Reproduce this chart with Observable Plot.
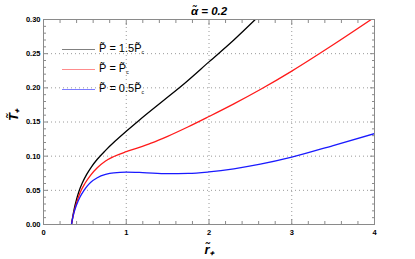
<!DOCTYPE html>
<html><head><meta charset="utf-8">
<script src="https://cdn.jsdelivr.net/npm/d3@7"></script>
<script src="https://cdn.jsdelivr.net/npm/@observablehq/plot@0.6"></script>
<style>
body{margin:0;background:#fff}
#c{position:relative;width:415px;height:259px;font-family:"Liberation Sans",Arial,sans-serif}
.lg{position:absolute;left:62px;font-size:11px;color:#000;white-space:nowrap;line-height:12px}
.lg i{display:inline-block;width:33px;height:0;border-top:1px solid;vertical-align:middle;margin-right:4px;font-style:normal}
.lg sub{font-size:5px;vertical-align:-2px}
</style>
</head><body><div id="c"></div>
<script>
// r̃+ and T̃+ values
const rBlack = [0.338,0.35,0.37,0.40,0.43,0.47,0.52,0.58,0.65,0.75,0.87,1.0,1.15,1.45,1.7,2.0,2.3,2.56];
const tBlack = [0,0.009,0.022,0.037,0.049,0.061,0.073,0.0845,0.0955,0.1085,0.1225,0.1365,0.152,0.1815,0.206,0.238,0.270,0.300];
const rRed = [0.338,0.35,0.37,0.40,0.447,0.5,0.568,0.65,0.75,0.85,1.0,1.15,1.3,1.5,1.75,2.0,2.3,2.62,3.0,3.5,3.96];
const tRed = [0,0.008,0.019,0.032,0.048,0.060,0.072,0.083,0.093,0.0995,0.1065,0.1125,0.119,0.129,0.143,0.158,0.1765,0.1975,0.2245,0.263,0.300];
const rBlue = [0.338,0.35,0.37,0.40,0.44,0.49,0.53,0.568,0.65,0.75,0.85,1.0,1.2,1.5,1.75,2.0,2.3,2.62,3.0,3.5,4.0];
const tBlue = [0,0.008,0.018,0.029,0.040,0.050,0.0565,0.0615,0.0685,0.0733,0.0757,0.0766,0.0760,0.0745,0.0748,0.0770,0.0815,0.0882,0.0985,0.1155,0.133];
const seriesNames = ["1.5","1","0.5"];
const seriesColors = ["#000000","#ff1a1a","#1a1aff"];
const xMajor = [0,1,2,3,4];
const yMajor = [0,0.05,0.10,0.15,0.20,0.25,0.30];
const xGrid = [1,2,3];
const yGrid = [0.05,0.10,0.15,0.20,0.25];
const xMinor = d3.range(0,4.0001,0.2).filter(v=>Math.abs(v-Math.round(v))>1e-6);
const yMinor = d3.range(0,0.3001,0.01).filter(v=>Math.abs(v*20-Math.round(v*20))>1e-6);
const titleText = "α\u0303 = 0.2";
const xLabel = "r\u0303\u208A";
const yLabel = "T\u0303\u208A";

const data = [];
[[rBlack,tBlack],[rRed,tRed],[rBlue,tBlue]].forEach(([rs,ts],i)=>{
  rs.forEach((r,j)=>data.push({r, T: ts[j], s: seriesNames[i]}));
});

const tickStyle = {stroke:"#8a8a8a", tickFormat:()=>"", label:null};
const fontB = {fontFamily:"Liberation Sans, Arial, sans-serif", fontWeight:"bold"};

const chart = Plot.plot({
  width:415, height:259,
  marginLeft:43, marginRight:41, marginTop:19, marginBottom:35,
  style:{background:"#fff", overflow:"visible"},
  x:{domain:[0,4], axis:null},
  y:{domain:[0,0.3], axis:null},
  color:{domain:seriesNames, range:seriesColors},
  marks:[
    Plot.gridX(xGrid, {stroke:"#9a9a9a", strokeOpacity:1, strokeDasharray:"1,3"}),
    Plot.gridY(yGrid, {stroke:"#9a9a9a", strokeOpacity:1, strokeDasharray:"1,3"}),
    Plot.line(data, {x:"r", y:"T", z:"s", stroke:"s", strokeWidth:1.3, curve:"monotone-x", clip:true}),
    Plot.frame({stroke:"#8a8a8a"}),
    Plot.axisX(xMajor, {anchor:"bottom", tickSize:-5, ...tickStyle}),
    Plot.axisX(xMinor, {anchor:"bottom", tickSize:-3, ...tickStyle}),
    Plot.axisX(xMajor, {anchor:"top", tickSize:-5, ...tickStyle}),
    Plot.axisX(xMinor, {anchor:"top", tickSize:-3, ...tickStyle}),
    Plot.axisY(yMajor, {anchor:"left", tickSize:-5, ...tickStyle}),
    Plot.axisY(yMinor, {anchor:"left", tickSize:-3, ...tickStyle}),
    Plot.axisY(yMajor, {anchor:"right", tickSize:-5, ...tickStyle}),
    Plot.axisY(yMinor, {anchor:"right", tickSize:-3, ...tickStyle}),
    Plot.axisX(xMajor, {anchor:"bottom", tickSize:0, tickPadding:5, tickFormat:d=>String(d), label:null, fontSize:7.5, ...fontB, fill:"#000"}),
    Plot.axisY(yMajor, {anchor:"left", tickSize:0, tickPadding:3, tickFormat:d=>d.toFixed(2), label:null, fontSize:7.5, ...fontB, fill:"#000"}),
    Plot.text([titleText], {frameAnchor:"top", lineAnchor:"bottom", dy:-5, fontSize:11.5, ...fontB, fontStyle:"italic", fill:"#000"}),
    Plot.text([xLabel], {frameAnchor:"bottom", lineAnchor:"middle", dy:25, fontSize:13, ...fontB, fontStyle:"italic", fill:"#000"}),
    Plot.text([yLabel], {frameAnchor:"left", dx:-30, dy:-1, rotate:-90, fontSize:13, ...fontB, fontStyle:"italic", fill:"#000"})
  ]
});
const c = document.getElementById("c");
c.appendChild(chart);

const legendRows = [
  {color:"#808080", html:"P&#x303; = 1.5P&#x303;<sub>c</sub>", y:48},
  {color:"#ff8c8c", html:"P&#x303; = P&#x303;<sub>c</sub>", y:68},
  {color:"#7c7cff", html:"P&#x303; = 0.5P&#x303;<sub>c</sub>", y:88}
];
legendRows.forEach(row=>{
  const d = document.createElement("div");
  d.className = "lg";
  d.style.top = (row.y - 6) + "px";
  d.innerHTML = `<i style="border-color:${row.color}"></i>${row.html}`;
  c.appendChild(d);
});
</script>
</body></html>
